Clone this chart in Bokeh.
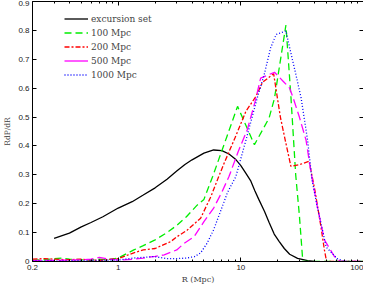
from bokeh.plotting import figure
from bokeh.models import (LinearAxis, LogAxis, FixedTicker, Legend, LegendItem, Range1d)
from bokeh.embed import file_html
from bokeh.resources import INLINE

# ---- data ----
R_exc = [0.3, 0.4, 0.5, 0.6, 0.75, 1.0, 1.3, 1.6, 2.0, 2.5, 3.0, 3.5, 4.0, 5.0, 6.0, 7.0,
         8.0, 9.0, 10, 11, 12, 13, 14, 15.6, 17, 18.7, 20.5, 22.6, 25, 29, 35, 40]
P_exc = [0.080, 0.098, 0.120, 0.135, 0.155, 0.185, 0.207, 0.230, 0.255, 0.285, 0.313, 0.336,
         0.352, 0.375, 0.386, 0.384, 0.372, 0.355, 0.332, 0.305, 0.280, 0.245, 0.215, 0.173,
         0.135, 0.095, 0.070, 0.045, 0.025, 0.011, 0.003, 0.0]

R_100 = [0.2, 0.25, 0.3, 0.35, 0.4, 0.5, 0.6, 0.7, 0.8, 1.0, 1.34, 1.6, 2.0, 2.5, 3.0, 3.6,
         4.4, 5.0, 5.9, 7.7, 9.4, 12.9, 17.0, 18.8, 23.3, 25.6, 28, 30, 32, 100]
P_100 = [0.005, 0.006, 0.010, 0.012, 0.008, 0.006, 0.005, 0.008, 0.006, 0.012, 0.040, 0.055,
         0.075, 0.100, 0.125, 0.155, 0.195, 0.215, 0.295, 0.433, 0.537, 0.404, 0.497, 0.565,
         0.818, 0.570, 0.300, 0.160, 0.0, 0.0]

R_200 = [0.2, 0.25, 0.3, 0.4, 0.5, 0.6, 0.7, 0.8, 1.0, 1.34, 1.6, 2.0, 2.68, 3.0, 3.66, 4.7,
         5.7, 6.6, 7.3, 9.0, 11.0, 13.3, 15.0, 18.5, 21.0, 23.0, 25.6, 30, 36, 40, 45, 48, 50, 100]
P_200 = [0.008, 0.010, 0.008, 0.006, 0.008, 0.005, 0.004, 0.006, 0.010, 0.030, 0.040, 0.045,
         0.069, 0.085, 0.109, 0.150, 0.225, 0.294, 0.340, 0.430, 0.520, 0.572, 0.620, 0.650,
         0.500, 0.420, 0.329, 0.335, 0.347, 0.250, 0.120, 0.040, 0.0, 0.0]

R_500 = [0.2, 0.3, 0.4, 0.5, 0.6, 0.7, 0.8, 1.0, 1.34, 1.6, 2.0, 2.37, 3.0, 3.45, 4.16, 5.0,
         6.0, 7.0, 8.0, 9.5, 11.3, 13.0, 14.5, 18.8, 22.0, 25.0, 27.0, 30, 34, 37, 42, 48, 58,
         65, 100]
P_500 = [0.003, 0.004, 0.005, 0.006, 0.008, 0.014, 0.010, 0.005, 0.008, 0.012, 0.018, 0.023,
         0.040, 0.063, 0.086, 0.138, 0.185, 0.240, 0.294, 0.380, 0.457, 0.550, 0.635, 0.655,
         0.625, 0.600, 0.560, 0.500, 0.420, 0.318, 0.190, 0.075, 0.017, 0.0, 0.0]

R_1000 = [0.2, 0.3, 0.5, 0.7, 1.0, 1.34, 1.96, 2.5, 3.0, 3.6, 4.2, 4.7, 5.3, 6.0, 6.9, 7.8,
          9.1, 11.0, 13.6, 15.5, 17.5, 19.4, 23.3, 25.0, 28.0, 31.0, 35.0, 38.0, 42.0, 49.6,
          61.0, 70.0, 100]
P_1000 = [0.002, 0.002, 0.003, 0.004, 0.005, 0.012, 0.017, 0.010, 0.010, 0.012, 0.017, 0.030,
          0.063, 0.110, 0.179, 0.240, 0.294, 0.420, 0.566, 0.647, 0.740, 0.786, 0.798, 0.740,
          0.650, 0.566, 0.420, 0.283, 0.190, 0.050, 0.010, 0.0, 0.0]

labels = ["excursion set", "100 Mpc", "200 Mpc", "500 Mpc", "1000 Mpc"]
x_ticks = [0.2, 1, 10, 100]
x_tick_labels = ["0.2", "1", "10", "100"]
y_ticks = [0, 0.1, 0.2, 0.3, 0.4, 0.5, 0.6, 0.7, 0.8, 0.9]
y_tick_labels = ["0", "0.1", "0.2", "0.3", "0.4", "0.5", "0.6", "0.7", "0.8", "0.9"]

minor_x = [0.3, 0.4, 0.5, 0.6, 0.7, 0.8, 0.9] + [float(i) for i in range(2, 10)] + [float(i * 10) for i in range(2, 10)]

p = figure(width=363, height=286, x_axis_type="log", output_backend="svg",
           toolbar_location=None, x_range=Range1d(0.2, 100), y_range=Range1d(0, 0.9),
           min_border_left=0, min_border_right=0, min_border_top=1, min_border_bottom=0)
p.outline_line_color = None
p.xgrid.visible = False
p.ygrid.visible = False
p.background_fill_color = "white"

tick_font = "Liberation Sans"
lab_font = "DejaVu Serif"

def style_axis(ax, show_labels, color="black"):
    ax.axis_line_color = color
    ax.axis_line_width = 1
    ax.major_tick_in = 4
    ax.major_tick_out = 0
    ax.minor_tick_in = 2
    ax.minor_tick_out = 0
    ax.major_tick_line_color = "black"
    ax.minor_tick_line_color = "black"
    if show_labels:
        ax.major_label_text_font = tick_font
        ax.major_label_text_font_size = "8px"
        ax.major_label_text_color = "#222222"
        ax.major_label_standoff = 3
    else:
        ax.major_label_text_font_size = "1px"
        ax.major_label_text_alpha = 0
        ax.major_label_standoff = 0
        ax.axis_label_standoff = 0

xax = p.xaxis[0]
xax.ticker = FixedTicker(ticks=x_ticks, minor_ticks=minor_x)
xax.major_label_overrides = {t: l for t, l in zip(x_ticks, x_tick_labels)}
style_axis(xax, True)
xax.axis_label = "R (Mpc)"
xax.axis_label_text_font = lab_font
xax.axis_label_text_font_size = "8px"
xax.axis_label_text_font_style = "normal"
xax.axis_label_text_color = "#444444"
xax.axis_label_standoff = 2

yax = p.yaxis[0]
yax.ticker = FixedTicker(ticks=y_ticks, minor_ticks=[])
yax.major_label_overrides = {t: l for t, l in zip(y_ticks, y_tick_labels)}
style_axis(yax, True)
yax.axis_label = "RdP/dR"
yax.axis_label_text_font = lab_font
yax.axis_label_text_font_size = "7.5px"
yax.axis_label_text_font_style = "normal"
yax.axis_label_text_color = "#444444"
yax.axis_label_standoff = 3

top = LogAxis(ticker=FixedTicker(ticks=x_ticks, minor_ticks=minor_x))
style_axis(top, False)
p.add_layout(top, "above")
right = LinearAxis(ticker=FixedTicker(ticks=y_ticks, minor_ticks=[]))
style_axis(right, False, color="#999999")
right.major_label_overrides = {t: "" for t in y_ticks}
p.add_layout(right, "right")

r_exc = p.line(R_exc, P_exc, line_color="black", line_width=1.3)
r_100 = p.line(R_100, P_100, line_color="#00ee00", line_width=1.3, line_dash="7 4")
r_200 = p.line(R_200, P_200, line_color="#ff0000", line_width=1.3, line_dash="5 2 2 2")
r_500 = p.line(R_500, P_500, line_color="#ff00ff", line_width=1.3, line_dash="9 4")
r_1000 = p.line(R_1000, P_1000, line_color="#0000ff", line_width=1.3, line_dash="1 2")
# solid sample for the 500 Mpc legend entry (single point: draws nothing in the plot)
r_500_leg = p.line(R_500[:1], P_500[:1], line_color="#ff00ff", line_width=1.3)

legend = Legend(items=[LegendItem(label=labels[0], renderers=[r_exc]),
                       LegendItem(label=labels[1], renderers=[r_100]),
                       LegendItem(label=labels[2], renderers=[r_200]),
                       LegendItem(label=labels[3], renderers=[r_500_leg]),
                       LegendItem(label=labels[4], renderers=[r_1000])],
                location=(32, 180), padding=0, margin=0, spacing=1,
                glyph_width=24, glyph_height=13, label_height=13, label_standoff=3,
                label_text_font=lab_font, label_text_font_size="9px",
                border_line_color=None, background_fill_alpha=0)
p.add_layout(legend, "center")

open("out.html", "w").write(file_html(p, INLINE))
